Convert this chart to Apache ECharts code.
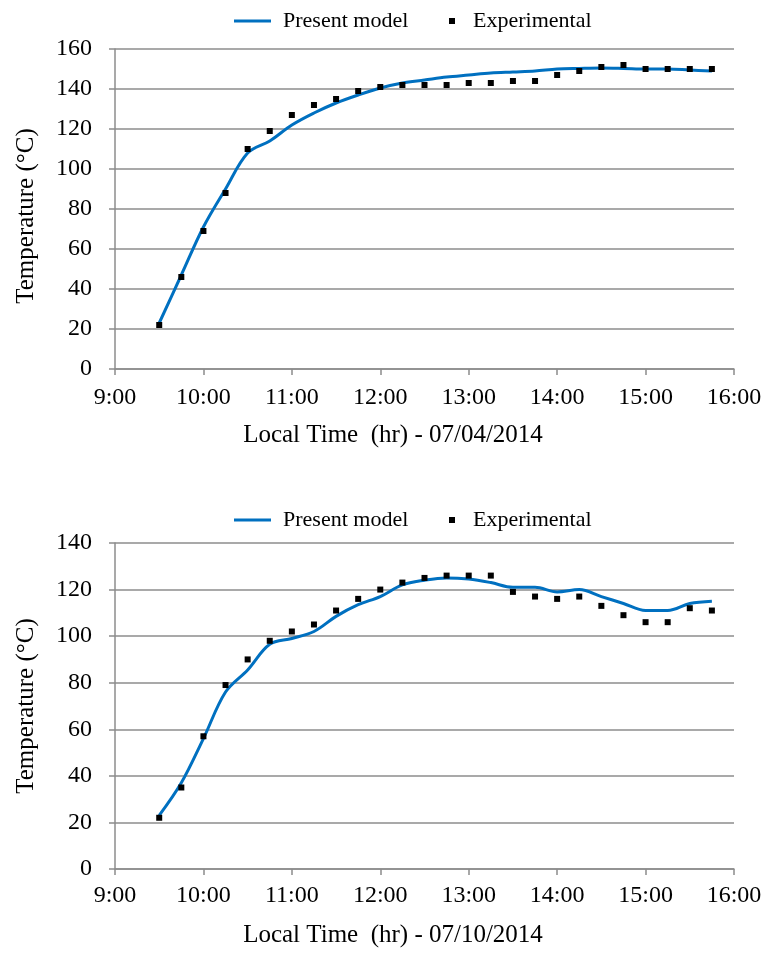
<!DOCTYPE html>
<html>
<head>
<meta charset="utf-8">
<script src="https://cdn.jsdelivr.net/npm/echarts@6/dist/echarts.min.js"></script>
<style>
  html, body { margin: 0; padding: 0; background: #fff; }
  #chart { width: 768px; height: 954px; }
</style>
</head>
<body>
<div id="chart"></div>
<script>
// Sampling times (every 15 minutes)
const times = ['9:30', '9:45', '10:00', '10:15', '10:30', '10:45', '11:00', '11:15', '11:30', '11:45',
  '12:00', '12:15', '12:30', '12:45', '13:00', '13:15', '13:30', '13:45', '14:00', '14:15',
  '14:30', '14:45', '15:00', '15:15', '15:30', '15:45'];

// 07/04/2014
const model1 = [23, 47, 71, 90, 108, 114, 122, 128, 133, 137, 140.5, 143, 144.5, 146, 147, 148,
  148.5, 149, 150, 150.3, 150.5, 150.3, 150, 150, 149.5, 149];
const exp1 = [22, 46, 69, 88, 110, 119, 127, 132, 135, 139, 141, 142, 142, 142, 143, 143,
  144, 144, 147, 149, 151, 152, 150, 150, 150, 150];

// 07/10/2014
const model2 = [23, 37, 56, 76, 85.5, 96.5, 99, 102, 108.5, 113.5, 117, 122, 124, 125, 124.5, 123,
  121, 121, 119, 120, 117, 114, 111, 111, 114, 115];
const exp2 = [22, 35, 57, 79, 90, 98, 102, 105, 111, 116, 120, 123, 125, 126, 126, 126,
  119, 117, 116, 117, 113, 109, 106, 106, 112, 111];

const xTicks = ['9:00', '10:00', '11:00', '12:00', '13:00', '14:00', '15:00', '16:00'];
const xTitles = ['Local Time  (hr) - 07/04/2014', 'Local Time  (hr) - 07/10/2014'];
const yTitle = 'Temperature (\u00B0C)';

function toHours(t) {
  const p = t.split(':');
  return Number(p[0]) + Number(p[1]) / 60;
}
const hours = times.map(toHours);
const pairs = vals => vals.map((v, i) => [hours[i], v]);

const FONT = 'Liberation Serif';
const GRAY = '#8c8c8c';
const BLUE = '#0070C0';

function xAxisFor(idx, labelMargin, nameGap) {
  return {
    gridIndex: idx, type: 'value', min: 9, max: 16, interval: 1,
    name: xTitles[idx], nameLocation: 'middle', nameGap: nameGap,
    nameTextStyle: { fontFamily: FONT, fontSize: 25, color: '#000', padding: [0, 63, 0, 0] },
    axisLine: { show: true, lineStyle: { color: GRAY, width: 1.5 } },
    axisTick: { show: true, inside: false, length: 6, lineStyle: { color: GRAY, width: 1.5 } },
    splitLine: { show: false },
    axisLabel: {
      margin: labelMargin, fontFamily: FONT, fontSize: 24, color: '#000',
      formatter: v => xTicks[Math.round(v - 9)]
    }
  };
}
function yAxisFor(idx, max, namePad) {
  return {
    gridIndex: idx, type: 'value', min: 0, max: max, interval: 20,
    name: yTitle, nameLocation: 'middle', nameRotate: 90, nameGap: 76,
    nameTextStyle: { fontFamily: FONT, fontSize: 25, color: '#000', padding: namePad },
    axisLine: { show: true, lineStyle: { color: GRAY, width: 1.5 } },
    axisTick: { show: true, inside: false, length: 6, lineStyle: { color: GRAY, width: 1.5 } },
    splitLine: { show: true, lineStyle: { color: GRAY, width: 1.5 } },
    axisLabel: { margin: 23, fontFamily: FONT, fontSize: 24, color: '#000' }
  };
}
function legendPair(top) {
  const ts = { fontFamily: FONT, fontSize: 22, color: '#000' };
  return [
    { data: [{ name: 'Present model', icon: 'rect' }], left: 229, top: top,
      itemWidth: 37, itemHeight: 3,
      textStyle: Object.assign({ padding: [0, 0, 0, 7] }, ts), selectedMode: false },
    { data: [{ name: 'Experimental', icon: 'rect' }], left: 444, top: top,
      itemWidth: 6, itemHeight: 6,
      textStyle: Object.assign({ padding: [0, 0, 0, 13] }, ts), selectedMode: false }
  ];
}
function lineSeries(idx, vals) {
  return {
    name: 'Present model', type: 'line', xAxisIndex: idx, yAxisIndex: idx,
    data: pairs(vals), smooth: 0.35, showSymbol: false, symbol: 'none',
    lineStyle: { color: BLUE, width: 3 }, itemStyle: { color: BLUE }, z: 2
  };
}
function scatterSeries(idx, vals) {
  return {
    name: 'Experimental', type: 'scatter', xAxisIndex: idx, yAxisIndex: idx,
    data: pairs(vals), symbol: 'rect', symbolSize: 6,
    itemStyle: { color: '#000', opacity: 1 }, z: 3
  };
}

const chart = echarts.init(document.getElementById('chart'), null, { renderer: 'canvas' });
chart.setOption({
  animation: false,
  backgroundColor: '#fff',
  legend: legendPair(5).concat(legendPair(504)),
  grid: [
    { left: 115, top: 49, width: 619, height: 320 },
    { left: 115, top: 543, width: 619, height: 326 }
  ],
  xAxis: [xAxisFor(0, 17, 54), xAxisFor(1, 15, 54)],
  yAxis: [yAxisFor(0, 160, [0, 14, 0, 0]), yAxisFor(1, 140, [0, 0, 0, 0])],
  series: [
    lineSeries(0, model1), scatterSeries(0, exp1),
    lineSeries(1, model2), scatterSeries(1, exp2)
  ]
});
</script>
</body>
</html>
